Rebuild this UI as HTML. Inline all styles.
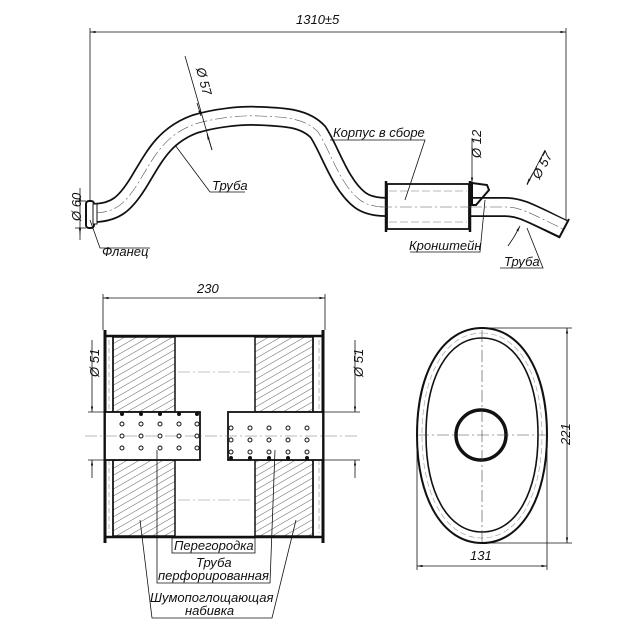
<!DOCTYPE html>
<html><head><meta charset="utf-8"><style>
html,body{margin:0;padding:0;background:#fff;}
svg{display:block;}
text{font-family:"Liberation Sans","DejaVu Sans",sans-serif;font-style:italic;fill:#111;font-size:13px;}
</style></head><body>
<svg width="636" height="636" viewBox="0 0 636 636" xmlns="http://www.w3.org/2000/svg">
<defs>
<pattern id="h" width="6" height="6" patternUnits="userSpaceOnUse" patternTransform="rotate(60)">
<line x1="0" y1="0" x2="0" y2="6" stroke="#333" stroke-width="0.8"/></pattern>
<marker id="a" viewBox="0 0 10 10" refX="10" refY="5" markerWidth="7" markerHeight="7" orient="auto-start-reverse"><path d="M0,3 L10,5 L0,7 z" fill="#111"/></marker>
</defs>
<g stroke="#111" fill="none" stroke-width="0.8">
<line x1="90" y1="32" x2="566" y2="32" marker-start="url(#a)" marker-end="url(#a)"/>
<line x1="90" y1="28" x2="90" y2="205"/>
<line x1="566" y1="28" x2="566" y2="222"/>
</g>
<text x="296" y="24">1310±5</text>
<path d="M95,213 C115,212 125,205 140,180 C155,155 165,135 195,124 C215,118 240,115 260,116 C285,117 305,118 318,132 C330,150 340,185 360,200 C368,206 378,207 387,207" fill="none" stroke="#111" stroke-width="20"/>
<path d="M95,213 C115,212 125,205 140,180 C155,155 165,135 195,124 C215,118 240,115 260,116 C285,117 305,118 318,132 C330,150 340,185 360,200 C368,206 378,207 387,207" fill="none" stroke="#fff" stroke-width="16.5"/>
<path d="M95,213 C115,212 125,205 140,180 C155,155 165,135 195,124 C215,118 240,115 260,116 C285,117 305,118 318,132 C330,150 340,185 360,200 C368,206 378,207 387,207" fill="none" stroke="#555" stroke-width="0.6" stroke-dasharray="12,3,2,3"/>
<path d="M468,207 L505,207 C520,207 528,212 563,229" fill="none" stroke="#111" stroke-width="20"/>
<path d="M468,207 L505,207 C520,207 528,212 564,229" fill="none" stroke="#fff" stroke-width="16.5"/>
<path d="M470,207 L505,207 C520,207 528,212 563,229" fill="none" stroke="#555" stroke-width="0.6" stroke-dasharray="12,3,2,3"/>
<line x1="559" y1="238" x2="569" y2="219" stroke="#111" stroke-width="2"/>
<rect x="86" y="201" width="8" height="27" rx="3" fill="#fff" stroke="#111" stroke-width="2"/>
<rect x="93" y="204" width="4" height="20" fill="#fff" stroke="#111" stroke-width="1"/>
<rect x="387" y="184" width="82" height="45" fill="#fff" stroke="#111" stroke-width="1.8"/>
<line x1="386" y1="181" x2="386" y2="232" stroke="#111" stroke-width="2.5"/>
<line x1="470" y1="181" x2="470" y2="232" stroke="#111" stroke-width="2.5"/>
<line x1="389" y1="191" x2="467" y2="191" stroke="#777" stroke-width="0.6" stroke-dasharray="8,3"/>
<line x1="389" y1="222" x2="467" y2="222" stroke="#777" stroke-width="0.6" stroke-dasharray="8,3"/>
<line x1="380" y1="207" x2="475" y2="207" stroke="#555" stroke-width="0.6" stroke-dasharray="12,3,2,3"/>
<path d="M472,183 L487,185 L489,190 L476,205 L472,205 Z" fill="none" stroke="#111" stroke-width="2"/>
<g stroke="#111" stroke-width="0.8" fill="none">
<line x1="80" y1="188" x2="80" y2="240"/><line x1="75" y1="201" x2="86" y2="201"/><line x1="75" y1="228" x2="86" y2="228"/>
<line x1="80" y1="201" x2="80" y2="195" marker-end="url(#a)"/><line x1="80" y1="228" x2="80" y2="234" marker-end="url(#a)"/>
<path d="M90,220 L100,248 L150,248"/>
<path d="M185,56 L212,150"/><line x1="197" y1="103" x2="201" y2="116" marker-end="url(#a)"/><line x1="212" y1="150" x2="207" y2="134" marker-end="url(#a)"/>
<path d="M175,145 L210,192 L245,192"/>
<path d="M405,200 L425,140 L330,140"/>
<line x1="472" y1="138" x2="472" y2="183" marker-end="url(#a)"/>
<path d="M485,200 L480,252 L410,252"/>
<path d="M527,185 L545,150"/><line x1="533" y1="173" x2="527" y2="184" marker-end="url(#a)"/><line x1="514" y1="237" x2="520" y2="226" marker-end="url(#a)"/><line x1="514" y1="237" x2="508" y2="246"/>
<path d="M527,228 L543,268 L500,268"/>
</g>
<text x="64" y="226" transform="rotate(-90 70 215)">Ø 60</text>
<text x="102" y="256">Фланец</text>
<text x="192" y="78" transform="rotate(75 200 76)">Ø 57</text>
<text x="212" y="190">Труба</text>
<text x="333" y="137">Корпус в сборе</text>
<text x="460" y="163" transform="rotate(-90 468 150)">Ø 12</text>
<text x="409" y="250">Кронштейн</text>
<text x="524" y="176" transform="rotate(-62 535 165)">Ø 57</text>
<text x="504" y="266">Труба</text>

<g stroke="#111" stroke-width="0.8" fill="none">
<line x1="103" y1="298" x2="325" y2="298" marker-start="url(#a)" marker-end="url(#a)"/>
<line x1="103" y1="294" x2="103" y2="330"/><line x1="325" y1="294" x2="325" y2="330"/>
</g>
<text x="197" y="293">230</text>
<rect x="113" y="337" width="62" height="75" fill="url(#h)" stroke="#111" stroke-width="1.5"/>
<rect x="113" y="460" width="62" height="76" fill="url(#h)" stroke="#111" stroke-width="1.5"/>
<rect x="255" y="337" width="58" height="75" fill="url(#h)" stroke="#111" stroke-width="1.5"/>
<rect x="255" y="460" width="58" height="76" fill="url(#h)" stroke="#111" stroke-width="1.5"/>
<line x1="105" y1="336" x2="323" y2="336" stroke="#111" stroke-width="2.5"/>
<line x1="105" y1="537" x2="323" y2="537" stroke="#111" stroke-width="2.5"/>
<line x1="105" y1="330" x2="105" y2="543" stroke="#111" stroke-width="3"/>
<line x1="323" y1="330" x2="323" y2="543" stroke="#111" stroke-width="3"/>
<line x1="109" y1="340" x2="109" y2="533" stroke="#888" stroke-width="0.6" stroke-dasharray="5,3"/>
<line x1="319" y1="340" x2="319" y2="533" stroke="#888" stroke-width="0.6" stroke-dasharray="5,3"/>
<line x1="113" y1="337" x2="113" y2="536" stroke="#111" stroke-width="1.5"/>
<line x1="313" y1="337" x2="313" y2="536" stroke="#111" stroke-width="1.5"/>
<line x1="178" y1="372" x2="252" y2="372" stroke="#888" stroke-width="0.6" stroke-dasharray="12,3,2,3"/>
<line x1="178" y1="500" x2="252" y2="500" stroke="#888" stroke-width="0.6" stroke-dasharray="12,3,2,3"/>
<rect x="105" y="412" width="95" height="48" fill="#fff" stroke="#111" stroke-width="1.8"/>
<rect x="228" y="412" width="95" height="48" fill="#fff" stroke="#111" stroke-width="1.8"/>
<line x1="85" y1="436" x2="360" y2="436" stroke="#777" stroke-width="0.6" stroke-dasharray="12,3,2,3"/>
<g fill="#fff" stroke="#111" stroke-width="1">
<circle cx="122" cy="424" r="2"/><circle cx="141" cy="424" r="2"/><circle cx="160" cy="424" r="2"/><circle cx="179" cy="424" r="2"/><circle cx="197" cy="424" r="2"/>
<circle cx="122" cy="436" r="2"/><circle cx="141" cy="436" r="2"/><circle cx="160" cy="436" r="2"/><circle cx="179" cy="436" r="2"/><circle cx="197" cy="436" r="2"/>
<circle cx="122" cy="448" r="2"/><circle cx="141" cy="448" r="2"/><circle cx="160" cy="448" r="2"/><circle cx="179" cy="448" r="2"/><circle cx="197" cy="448" r="2"/>
<circle cx="231" cy="428" r="2"/><circle cx="250" cy="428" r="2"/><circle cx="269" cy="428" r="2"/><circle cx="288" cy="428" r="2"/><circle cx="307" cy="428" r="2"/>
<circle cx="231" cy="440" r="2"/><circle cx="250" cy="440" r="2"/><circle cx="269" cy="440" r="2"/><circle cx="288" cy="440" r="2"/><circle cx="307" cy="440" r="2"/>
<circle cx="231" cy="452" r="2"/><circle cx="250" cy="452" r="2"/><circle cx="269" cy="452" r="2"/><circle cx="288" cy="452" r="2"/><circle cx="307" cy="452" r="2"/>
</g>
<g fill="#111">
<circle cx="122" cy="414" r="2"/><circle cx="141" cy="414" r="2"/><circle cx="160" cy="414" r="2"/><circle cx="179" cy="414" r="2"/><circle cx="197" cy="414" r="2"/>
<circle cx="231" cy="458" r="2"/><circle cx="250" cy="458" r="2"/><circle cx="269" cy="458" r="2"/><circle cx="288" cy="458" r="2"/><circle cx="307" cy="458" r="2"/>
</g>
<g stroke="#111" stroke-width="0.8" fill="none">
<line x1="88" y1="412" x2="105" y2="412"/><line x1="88" y1="460" x2="105" y2="460"/>
<line x1="92" y1="340" x2="92" y2="412" marker-end="url(#a)"/><line x1="92" y1="478" x2="92" y2="460" marker-end="url(#a)"/>
<line x1="323" y1="412" x2="360" y2="412"/><line x1="323" y1="460" x2="360" y2="460"/>
<line x1="355" y1="340" x2="355" y2="412" marker-end="url(#a)"/><line x1="355" y1="478" x2="355" y2="460" marker-end="url(#a)"/>
<rect x="172" y="538" width="83" height="15"/>
<path d="M157,450 L157,583 L270,583 L275,450"/>
<path d="M140,520 L152,618 L272,618 L296,520"/>
</g>
<text x="79" y="383" transform="rotate(-90 86 370)">Ø 51</text>
<text x="343" y="383" transform="rotate(-90 350 370)">Ø 51</text>
<text x="174" y="550">Перегородка</text>
<text x="196" y="567">Труба</text>
<text x="158" y="580">перфорированная</text>
<text x="150" y="602">Шумопоглощающая</text>
<text x="185" y="615">набивка</text>

<path d="M482,328 C521,328 547,371 547,435 C547,499 521,543 482,543 C443,543 417,499 417,435 C417,371 443,328 482,328 Z" fill="none" stroke="#111" stroke-width="2"/>
<path d="M482,333 C518,333 542,374 542,435 C542,496 518,538 482,538 C446,538 422,496 422,435 C422,374 446,333 482,333 Z" fill="none" stroke="#999" stroke-width="0.6" stroke-dasharray="6,3"/>
<path d="M482,338 C516,338 538,377 538,435 C538,493 516,532 482,532 C448,532 426,493 426,435 C426,377 448,338 482,338 Z" fill="none" stroke="#111" stroke-width="1.6"/>
<circle cx="481" cy="435" r="25" fill="none" stroke="#111" stroke-width="3.5"/>
<g stroke="#444" stroke-width="0.6" stroke-dasharray="12,3,2,3">
<line x1="482" y1="330" x2="482" y2="542"/><line x1="417" y1="435" x2="547" y2="435"/>
</g>
<g stroke="#111" stroke-width="0.8" fill="none">
<line x1="482" y1="328" x2="572" y2="328"/><line x1="482" y1="543" x2="572" y2="543"/>
<line x1="567" y1="328" x2="567" y2="543" marker-start="url(#a)" marker-end="url(#a)"/>
<line x1="417" y1="435" x2="417" y2="570"/><line x1="547" y1="435" x2="547" y2="570"/>
<line x1="417" y1="566" x2="547" y2="566" marker-start="url(#a)" marker-end="url(#a)"/>
</g>
<text x="550" y="445" transform="rotate(-90 560 435)">221</text>
<text x="470" y="560">131</text>
</svg>
</body></html>
